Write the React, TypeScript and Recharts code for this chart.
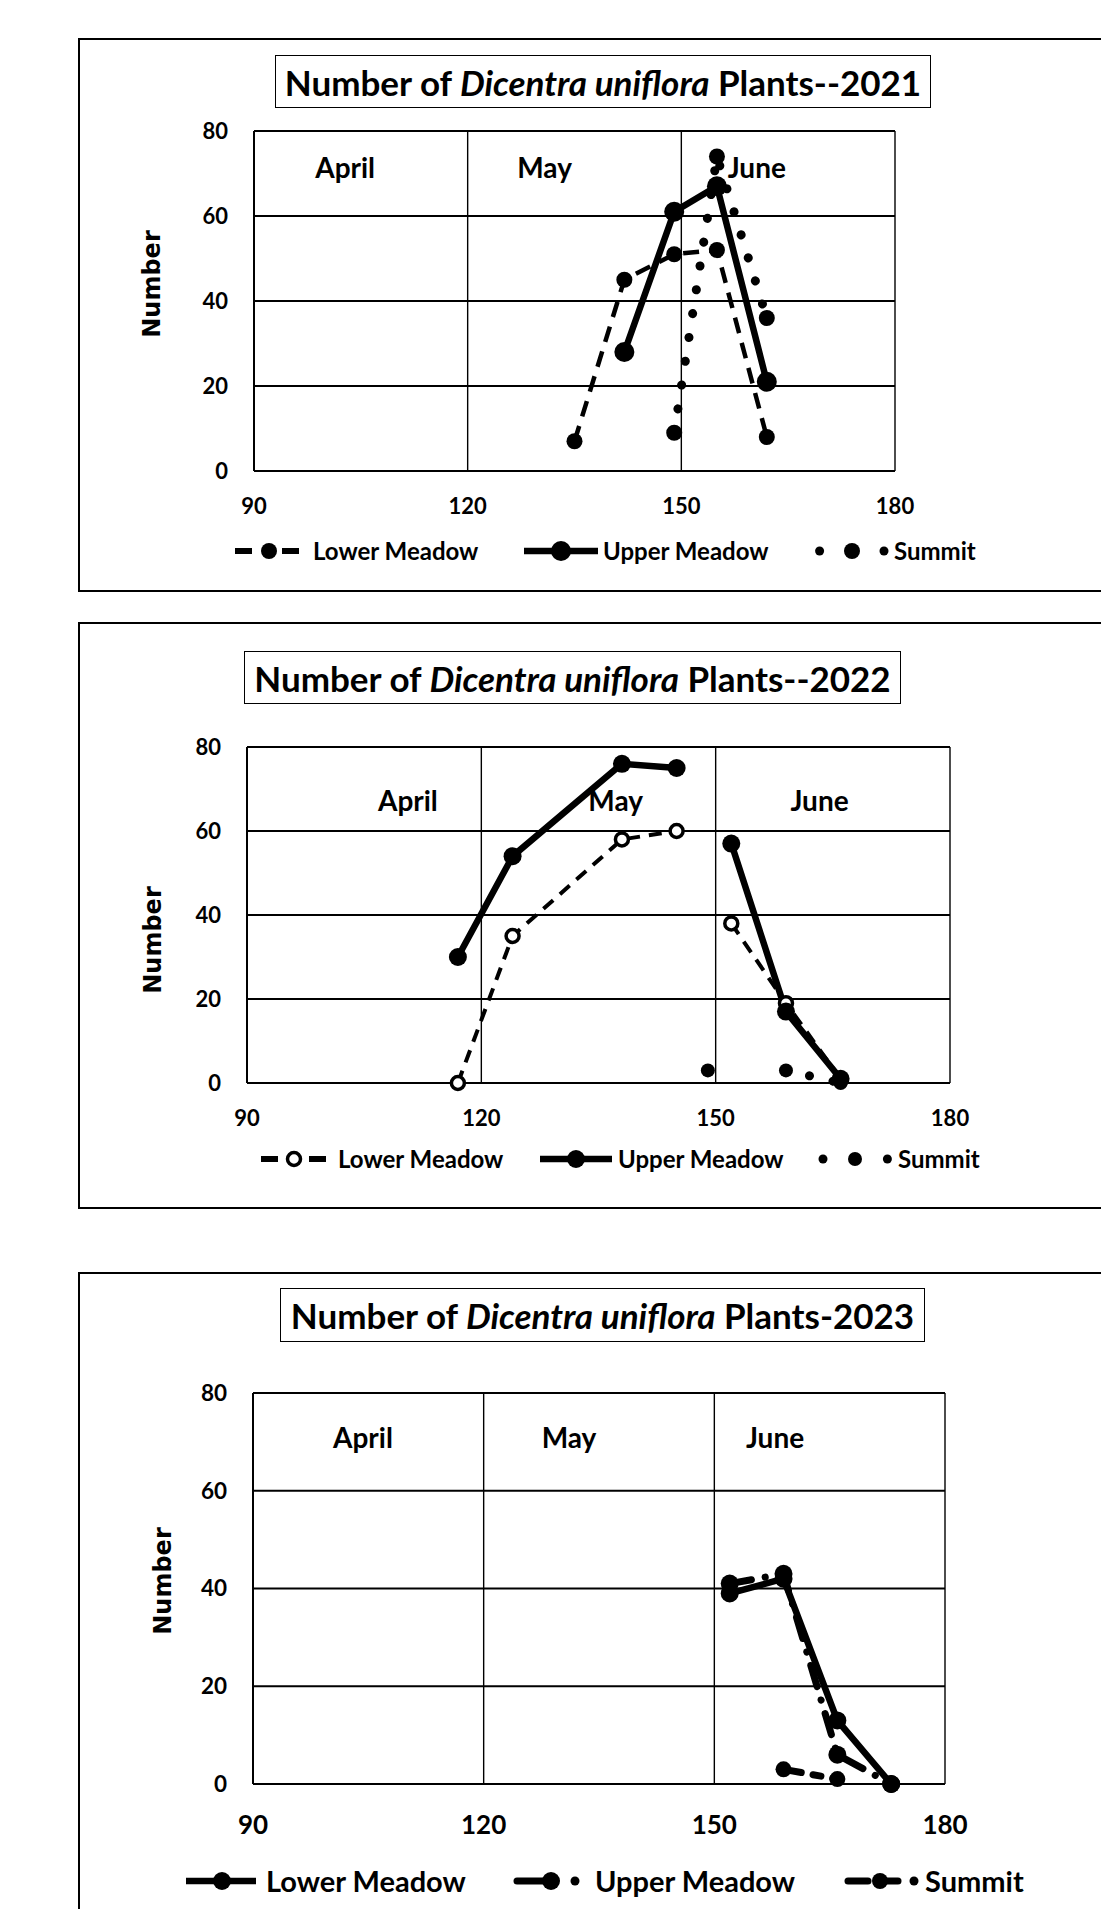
import React from 'react'
import { LineChart, Line, XAxis, YAxis, CartesianGrid, Legend, ReferenceDot } from 'recharts'

// survey day (day of year) and plant counts per site; null = no survey / line break
const days2021 = [135, 142, 149, 155, 162]
const lower2021 = [7, 45, 51, 52, 8]
const upper2021 = [null, 28, 61, 67, 21]
const summit2021 = [null, null, 9, 74, 36]

const days2022 = [117, 124, 138, 145, 149, 152, 159, 166]
const lower2022 = [0, 35, 58, 60, null, 38, 19, 1]
const upper2022 = [30, 54, 76, 75, null, 57, 17, 1]
const summit2022 = [null, null, null, null, 3, null, 3, 0]

const days2023 = [152, 159, 166, 173]
const lower2023 = [39, 42, 13, 0]
const upper2023 = [41, 43, 6, 0]
const summit2023 = [null, 3, 1, null]

const xTicks = [90, 120, 150, 180]
const yTicks = [0, 20, 40, 60, 80]
const months = ['April', 'May', 'June']
const siteNames = ['Lower Meadow', 'Upper Meadow', 'Summit']
const siteKeys = ['lower', 'upper', 'summit']

const W = 1101
const FONT = "Lato, 'Open Sans', sans-serif"

const buildRows = (days: number[], lo: any[], up: any[], su: any[]) =>
  days.map((d, i) => ({ day: d, lower: lo[i], upper: up[i], summit: su[i] }))

type SeriesStyle = { w: number; dash?: string; cap?: 'round' | 'butt'; r: number; hollow?: boolean }
type LegendItem = { left: number; width: number; segs: number[][]; dots: number[]; marker: number; textLeft: number }

const charts = [
  {
    year: 'Plants--2021',
    rows: buildRows(days2021, lower2021, upper2021, summit2021),
    frameTop: 38, frameBottom: 592,
    title: { left: 275, top: 55, width: 656, height: 53, size: 35 },
    plot: { left: 254, top: 131, right: 895, bottom: 471 },
    yTick: { size: 22, margin: 26 }, xTick: { size: 22, margin: 27 },
    yLabel: { x: 152, y: 284 },
    monthX: [102.8, 130.8, 160.6], monthY: 71.3, monthSize: 28,
    legendY: 551, legendSize: 24,
    styles: [
      { w: 4.5, dash: '16 10', r: 8 },
      { w: 6.5, r: 10 },
      { w: 9, dash: '0.1 24', cap: 'round', r: 8 },
    ] as SeriesStyle[],
    legend: [
      { left: 235, width: 64, segs: [[0, 17], [47, 64]], dots: [], marker: 34, textLeft: 313 },
      { left: 524, width: 74, segs: [[0, 74]], dots: [], marker: 37, textLeft: 603 },
      { left: 815, width: 74, segs: [], dots: [4.6, 69], marker: 37, textLeft: 894 },
    ] as LegendItem[],
  },
  {
    year: 'Plants--2022',
    rows: buildRows(days2022, lower2022, upper2022, summit2022),
    frameTop: 622, frameBottom: 1209,
    title: { left: 244, top: 651, width: 657, height: 53, size: 35 },
    plot: { left: 247, top: 747, right: 950, bottom: 1083 },
    yTick: { size: 22, margin: 26 }, xTick: { size: 22, margin: 27 },
    yLabel: { x: 153, y: 940 },
    monthX: [110.6, 137.2, 163.3], monthY: 67.2, monthSize: 28,
    legendY: 1159, legendSize: 24,
    styles: [
      { w: 4, dash: '13 9', r: 6.5, hollow: true },
      { w: 6.5, r: 9 },
      { w: 9, dash: '0.1 24', cap: 'round', r: 7 },
    ] as SeriesStyle[],
    legend: [
      { left: 261, width: 65, segs: [[0, 17], [48, 65]], dots: [], marker: 33, textLeft: 338 },
      { left: 540, width: 72, segs: [[0, 72]], dots: [], marker: 36, textLeft: 618 },
      { left: 818, width: 74, segs: [], dots: [5, 69.4], marker: 37, textLeft: 898 },
    ] as LegendItem[],
  },
  {
    year: 'Plants-2023',
    rows: buildRows(days2023, lower2023, upper2023, summit2023),
    frameTop: 1272, frameBottom: 1940,
    title: { left: 280, top: 1288, width: 645, height: 54, size: 35 },
    plot: { left: 253, top: 1393, right: 945, bottom: 1784 },
    yTick: { size: 22.5, margin: 26 }, xTick: { size: 26, margin: 32 },
    yLabel: { x: 163, y: 1581 },
    monthX: [104.3, 131.1, 157.9], monthY: 70.8, monthSize: 28,
    legendY: 1881, legendSize: 29,
    styles: [
      { w: 6.5, r: 9 },
      { w: 7, dash: '22 14 0.1 14', cap: 'round', r: 9 },
      { w: 7, dash: '18 12 8 12 0.1 12', cap: 'round', r: 8 },
    ] as SeriesStyle[],
    legend: [
      { left: 186, width: 70, segs: [[0, 70]], dots: [], marker: 36, textLeft: 266 },
      { left: 517, width: 62, segs: [[0, 28]], dots: [58], marker: 34, textLeft: 595 },
      { left: 848, width: 70, segs: [[0, 20], [32, 50]], dots: [66], marker: 32, textLeft: 925 },
    ] as LegendItem[],
  },
]

const makeDot = (st: SeriesStyle) => (p: any) => {
  const k = `${p.dataKey}-${p.index}`
  if (p.cx == null || p.cy == null || p.value == null || Number.isNaN(p.cy)) return <g key={k} />
  return (
    <circle key={k} cx={p.cx} cy={p.cy} r={st.r}
      fill={st.hollow ? '#fff' : '#000'} stroke="#000" strokeWidth={st.hollow ? 3.5 : 0} />
  )
}

function LegendRow({ items, styles, size }: { items: LegendItem[]; styles: SeriesStyle[]; size: number }) {
  return (
    <div style={{ position: 'relative', width: W, height: 40 }}>
      {items.map((it, i) => {
        const st = styles[i]
        return (
          <React.Fragment key={siteNames[i]}>
            <svg style={{ position: 'absolute', left: it.left - 5, top: 0, overflow: 'visible' }} width={it.width + 10} height={40}>
              {it.segs.map((s, j) => (
                <line key={j} x1={s[0] + 5} x2={s[1] + 5} y1={20} y2={20} stroke="#000" strokeWidth={Math.max(st.w, 6)}
                  strokeLinecap={st.cap === 'round' ? 'round' : 'butt'} />
              ))}
              {it.dots.map((d, j) => (
                <circle key={'d' + j} cx={d + 5} cy={20} r={4.5} fill="#000" />
              ))}
              <circle cx={it.marker + 5} cy={20} r={st.r} fill={st.hollow ? '#fff' : '#000'} stroke="#000" strokeWidth={st.hollow ? 3.5 : 0} />
            </svg>
            <span style={{ position: 'absolute', left: it.textLeft, top: 0, height: 40, lineHeight: '40px', fontFamily: FONT, fontWeight: 700, fontSize: size, whiteSpace: 'nowrap', color: '#000' }}>
              {siteNames[i]}
            </span>
          </React.Fragment>
        )
      })}
    </div>
  )
}

function Panel({ c }: { c: (typeof charts)[number] }) {
  const h = c.frameBottom - c.frameTop
  const top = c.plot.top - c.frameTop
  const bottom = h - (c.plot.bottom - c.frameTop)
  const yl = { x: c.yLabel.x, y: c.yLabel.y - c.frameTop }
  return (
    <>
      <div style={{ position: 'absolute', left: 78, top: c.frameTop, width: 1060, height: h, border: '2px solid #000', boxSizing: 'border-box' }} />
      <div style={{ position: 'absolute', left: 0, top: c.frameTop }}>
        <LineChart width={W} height={h} data={c.rows}
          margin={{ top, right: W - c.plot.right, bottom: bottom - 30, left: c.plot.left - 60 }}>
          <CartesianGrid vertical={false} stroke="#000" strokeWidth={2} />
          <CartesianGrid horizontal={false} stroke="#000" strokeWidth={1.4} />
          <XAxis dataKey="day" type="number" domain={[90, 180]} ticks={xTicks} height={30}
            tickSize={0} tickMargin={c.xTick.margin} axisLine={{ stroke: '#000', strokeWidth: 2 }} tickLine={false}
            tick={{ fill: '#000', fontSize: c.xTick.size, fontWeight: 700, fontFamily: FONT }} interval={0} />
          <YAxis type="number" domain={[0, 80]} ticks={yTicks} width={60}
            tickSize={0} tickMargin={c.yTick.margin} axisLine={{ stroke: '#000', strokeWidth: 2 }} tickLine={false}
            tick={{ fill: '#000', fontSize: c.yTick.size, fontWeight: 700, fontFamily: FONT }} interval={0}
            label={{
              content: () => (
                <text transform={`translate(${yl.x},${yl.y}) rotate(-90)`} textAnchor="middle" dominantBaseline="central"
                  fontFamily="'DejaVu Sans', Verdana, sans-serif" fontWeight="bold" fontSize={24} fill="#000">
                  Number
                </text>
              ),
            }} />
          {months.map((m, i) => (
            <ReferenceDot key={m} x={c.monthX[i]} y={c.monthY} r={0} fill="none" stroke="none"
              label={{ value: m, position: 'center', fill: '#000', fontSize: c.monthSize, fontWeight: 700, fontFamily: FONT }} />
          ))}
          {siteKeys.map((k, i) => {
            const st = c.styles[i]
            return (
              <Line key={k} dataKey={k} name={siteNames[i]} type="linear" stroke="#000" strokeWidth={st.w}
                strokeDasharray={st.dash} strokeLinecap={st.cap ?? 'butt'} dot={makeDot(st)} activeDot={false}
                isAnimationActive={false} connectNulls={false} />
            )
          })}
          <Legend layout="vertical" align="center" verticalAlign="middle"
            wrapperStyle={{ left: 0, top: c.legendY - c.frameTop - 20, width: W, height: 40 }}
            content={() => <LegendRow items={c.legend} styles={c.styles} size={c.legendSize} />} />
        </LineChart>
      </div>
      <div style={{
        position: 'absolute', left: c.title.left, top: c.title.top, width: c.title.width, height: c.title.height,
        border: '1.5px solid #000', boxSizing: 'border-box', display: 'flex', alignItems: 'center', justifyContent: 'center',
        fontFamily: FONT, fontWeight: 700, fontSize: c.title.size, whiteSpace: 'nowrap', color: '#000', background: '#fff',
      }}>
        Number of&nbsp;<i>Dicentra uniflora</i>&nbsp;{c.year}
      </div>
    </>
  )
}

export default function App() {
  return (
    <div style={{ position: 'absolute', left: 0, top: 0, width: W, height: 1909, overflow: 'hidden', background: '#fff', fontFamily: FONT }}>
      {charts.map((c) => (
        <Panel key={c.year} c={c} />
      ))}
    </div>
  )
}
